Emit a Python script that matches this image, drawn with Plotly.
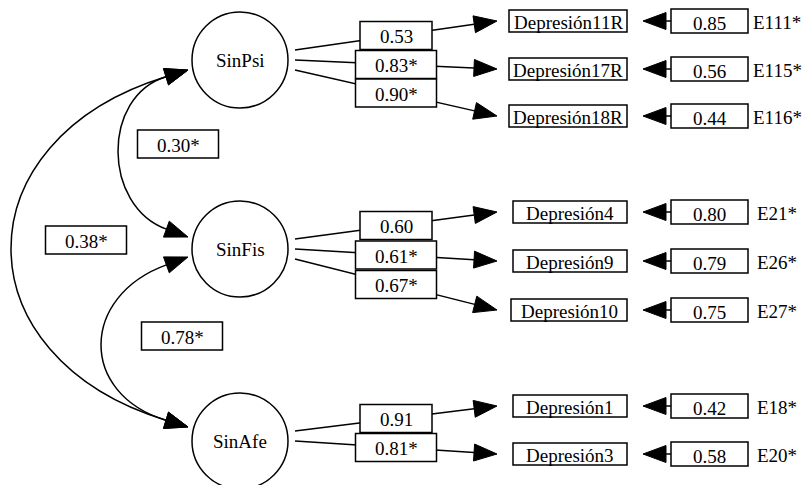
import math
import plotly.graph_objects as go

# ---------------- data ----------------
latents = ["SinPsi", "SinFis", "SinAfe"]
indicators = ["Depresión11R", "Depresión17R", "Depresión18R",
              "Depresión4", "Depresión9", "Depresión10",
              "Depresión1", "Depresión3"]
indicator_factor = [0, 0, 0, 1, 1, 1, 2, 2]
loading_values = [0.53, 0.83, 0.90, 0.60, 0.61, 0.67, 0.91, 0.81]
loading_sig = [False, True, True, False, True, True, False, True]
error_values = [0.85, 0.56, 0.44, 0.80, 0.79, 0.75, 0.42, 0.58]
error_labels = ["E111*", "E115*", "E116*", "E21*", "E26*", "E27*", "E18*", "E20*"]
corr_from = [0, 0, 1]
corr_to = [1, 2, 2]
corr_values = [0.30, 0.38, 0.78]
corr_sig = [True, True, True]

# ---------------- layout (positions / styles) ----------------
W, H = 802, 485
FONT = dict(family="Liberation Serif, Times New Roman, serif", size=19, color="black")
LW = 1.5
latent_x = 240
latent_y = [60, 249, 441]
latent_r = 48
row_y = [21, 69, 116, 212, 261, 310, 406, 454]
line_start_x = 295
start_offsets = {3: [-10, 0, 10], 2: [-10, 0]}
tip_x = 497
load_box_cx = 396
load_box_h = 28
ind_right = 627
ind_h = 22
err_tip_x = 643
err_box_x0, err_box_x1 = 671, 748
err_h = 24
err_label_x = 777
ARROW_L, ARROW_HW = 23, 8.5

# arrow tips on the left side of latent circles: (y offset, direction angle in degrees)
tip_upper = {0: (10, -17), 1: (-12, 20), 2: (-14, 17)}
tip_lower = {0: (10, -17), 1: (8, -20), 2: (-14, 17)}
arc_leftmost = [118, 11, 101]
corr_box_center = [(178, 144), (86, 240), (182, 336)]
corr_box_w, corr_box_h = 81, 28

shapes = []
annotations = []


def arrowhead(tx, ty, dx, dy):
    n = math.hypot(dx, dy)
    ux, uy = dx / n, dy / n
    bx, by = tx - ARROW_L * ux, ty - ARROW_L * uy
    px, py = -uy, ux
    p1 = (bx + ARROW_HW * px, by + ARROW_HW * py)
    p2 = (bx - ARROW_HW * px, by - ARROW_HW * py)
    shapes.append(dict(type="path", xref="x", yref="y",
                       path=f"M {tx},{ty} L {p1[0]},{p1[1]} L {p2[0]},{p2[1]} Z",
                       fillcolor="black", line=dict(color="black", width=1)))
    return bx, by


def rect(x0, y0, x1, y1):
    shapes.append(dict(type="rect", xref="x", yref="y", x0=x0, y0=y0, x1=x1, y1=y1,
                       fillcolor="white", line=dict(color="black", width=LW)))


def text(x, y, s, xanchor="center"):
    annotations.append(dict(x=x, y=y, xref="x", yref="y", text=s, showarrow=False,
                            font=FONT, xanchor=xanchor, yanchor="middle"))


def fmt(v, sig):
    return f"{v:.2f}" + ("*" if sig else "")


# ---- correlation arcs ----
for k, (a, b) in enumerate(zip(corr_from, corr_to)):
    oa, anga = tip_lower[a]
    ob, angb = tip_upper[b]
    tipa = (latent_x - latent_r - 4, latent_y[a] + oa)
    tipb = (latent_x - latent_r - 4, latent_y[b] + ob)
    da = (math.cos(math.radians(anga)), math.sin(math.radians(anga)))
    db = (math.cos(math.radians(angb)), math.sin(math.radians(angb)))
    P0 = arrowhead(tipa[0], tipa[1], *da)
    P3 = arrowhead(tipb[0], tipb[1], *db)
    kk = (0.5 * (P0[0] + P3[0]) - arc_leftmost[k]) / (0.375 * (da[0] + db[0]))
    P1 = (P0[0] - kk * da[0], P0[1] - kk * da[1])
    P2 = (P3[0] - kk * db[0], P3[1] - kk * db[1])
    shapes.insert(0, dict(type="path", xref="x", yref="y",
                          path=f"M {P0[0]},{P0[1]} C {P1[0]},{P1[1]} {P2[0]},{P2[1]} {P3[0]},{P3[1]}",
                          line=dict(color="black", width=LW)))
    cx, cy = corr_box_center[k]
    rect(cx - corr_box_w / 2, cy - corr_box_h / 2, cx + corr_box_w / 2, cy + corr_box_h / 2)
    text(cx, cy + 1, fmt(corr_values[k], corr_sig[k]))

# ---- latent circles ----
for i, name in enumerate(latents):
    shapes.append(dict(type="circle", xref="x", yref="y",
                       x0=latent_x - latent_r, x1=latent_x + latent_r,
                       y0=latent_y[i] - latent_r, y1=latent_y[i] + latent_r,
                       fillcolor="white", line=dict(color="black", width=LW)))
    text(latent_x, latent_y[i], name)

# ---- loadings ----
counts = [indicator_factor.count(f) for f in range(len(latents))]
seen = [0] * len(latents)
for j, ind in enumerate(indicators):
    f = indicator_factor[j]
    off = start_offsets[counts[f]][seen[f]]
    seen[f] += 1
    sx, sy = line_start_x, latent_y[f] + off
    tx, ty = tip_x, row_y[j]
    n = math.hypot(tx - sx, ty - sy)
    bx, by = tx - ARROW_L * (tx - sx) / n, ty - ARROW_L * (ty - sy) / n
    shapes.append(dict(type="line", xref="x", yref="y", x0=sx, y0=sy, x1=bx, y1=by,
                       line=dict(color="black", width=LW)))
    arrowhead(tx, ty, tx - sx, ty - sy)
    # loading box on the path
    t = (load_box_cx - sx) / (tx - sx)
    cy = sy + t * (ty - sy)
    bw = 81 if loading_sig[j] else 72
    rect(load_box_cx - bw / 2, cy - load_box_h / 2, load_box_cx + bw / 2, cy + load_box_h / 2)
    text(load_box_cx, cy + 1, fmt(loading_values[j], loading_sig[j]))
    # indicator box
    iw = 118 - 2 * (12 - len(ind))
    rect(ind_right - iw, row_y[j] - ind_h / 2, ind_right, row_y[j] + ind_h / 2)
    text(ind_right - iw / 2, row_y[j] + 1, ind)
    # error arrow and box
    eb = arrowhead(err_tip_x, row_y[j], -1, 0)
    shapes.append(dict(type="line", xref="x", yref="y", x0=eb[0], y0=row_y[j], x1=err_box_x0, y1=row_y[j],
                       line=dict(color="black", width=LW)))
    rect(err_box_x0, row_y[j] - err_h / 2, err_box_x1, row_y[j] + err_h / 2)
    text((err_box_x0 + err_box_x1) / 2, row_y[j] + 2, f"{error_values[j]:.2f}")
    text(err_label_x, row_y[j] + 1, error_labels[j])

fig = go.Figure()
fig.add_trace(go.Scatter(x=[0, W], y=[0, H], mode="markers", marker=dict(opacity=0),
                         hoverinfo="skip", showlegend=False))
fig.update_layout(
    width=W, height=H, autosize=False,
    margin=dict(l=0, r=0, t=0, b=0),
    paper_bgcolor="white", plot_bgcolor="white",
    xaxis=dict(range=[0, W], visible=False, fixedrange=True),
    yaxis=dict(range=[H, 0], visible=False, fixedrange=True),
    shapes=shapes, annotations=annotations, showlegend=False,
)
fig.write_html("out.html", config={"displayModeBar": False},
               post_script="document.body.style.margin='0';document.body.style.overflow='hidden';")
